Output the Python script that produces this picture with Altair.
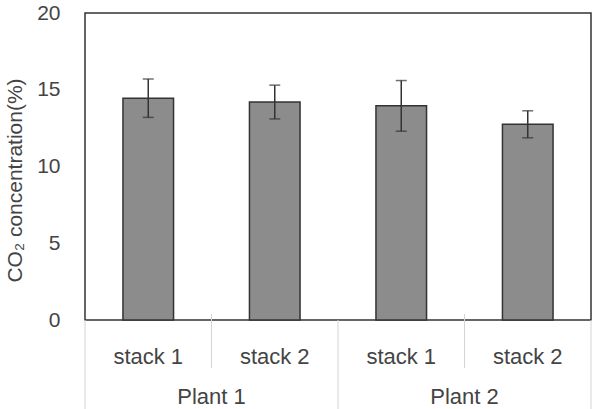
import altair as alt
import pandas as pd

plants = ["Plant 1", "Plant 1", "Plant 2", "Plant 2"]
stacks = ["stack 1", "stack 2", "stack 1", "stack 2"]
means = [14.45, 14.2, 13.95, 12.75]
errs = [1.25, 1.1, 1.65, 0.88]
plant_names = ["Plant 1", "Plant 2"]

keys = [p + " " + s for p, s in zip(plants, stacks)]
df = pd.DataFrame({"key": keys, "plant": plants, "stack": stacks, "mean": means, "err": errs})
pdf = pd.DataFrame({"plant": plant_names})

W, H = 506, 307
FONT = "Liberation Sans"
TXT = "#444"

bar_scale = alt.Scale(domain=keys, paddingInner=0.6, paddingOuter=0.3)
flat_scale = alt.Scale(domain=keys, paddingInner=0, paddingOuter=0)
plant_scale = alt.Scale(domain=plant_names, paddingInner=0, paddingOuter=0)
yscale = alt.Scale(domain=[0, 20], nice=False)
yaxis = alt.Axis(title="CO\u2082 concentration(%)", values=[0, 5, 10, 15, 20])

base = alt.Chart(df).transform_calculate(
    low="datum.mean - datum.err", high="datum.mean + datum.err"
)
xb = alt.X("key:N", scale=bar_scale, axis=None, sort=keys)

bars = base.mark_bar(fill="#8c8c8c", stroke="#333", strokeWidth=1.5).encode(
    x=xb,
    y=alt.Y("mean:Q", scale=yscale, axis=yaxis),
)

err_rule = base.mark_rule(color="#333", strokeWidth=1.5).encode(
    x=xb,
    y=alt.Y("low:Q", scale=yscale, axis=yaxis),
    y2="high:Q",
)
cap_hi = base.mark_tick(color="#333", size=11, thickness=1.5, orient="horizontal").encode(
    x=xb,
    y=alt.Y("high:Q", scale=yscale, axis=yaxis),
)
cap_lo = base.mark_tick(color="#333", size=11, thickness=1.5, orient="horizontal").encode(
    x=xb,
    y=alt.Y("low:Q", scale=yscale, axis=yaxis),
)

stack_labels = alt.Chart(df).mark_text(font=FONT, fontSize=22, color=TXT, baseline="middle").encode(
    x=xb,
    y=alt.value(H + 37),
    text="stack:N",
)

plant_labels = alt.Chart(pdf).mark_text(font=FONT, fontSize=22, color=TXT, baseline="middle").encode(
    x=alt.X("plant:N", scale=plant_scale, axis=None),
    y=alt.value(H + 77),
    text="plant:N",
)

sep_long = alt.Chart(pdf).mark_rule(color="#d4d4d4", strokeWidth=1).encode(
    x=alt.X("plant:N", scale=plant_scale, axis=None, bandPosition=0),
    y=alt.value(H),
    y2=alt.value(H + 89),
)
sep_end = alt.Chart(pdf).transform_filter("datum.plant == 'Plant 2'").mark_rule(
    color="#d4d4d4", strokeWidth=1).encode(
    x=alt.X("plant:N", scale=plant_scale, axis=None, bandPosition=1),
    y=alt.value(H),
    y2=alt.value(H + 89),
)
sep_short = alt.Chart(df).transform_filter("datum.stack == 'stack 2'").mark_rule(
    color="#d4d4d4", strokeWidth=1).encode(
    x=alt.X("key:N", scale=flat_scale, axis=None, bandPosition=0, sort=keys),
    y=alt.value(H - 6),
    y2=alt.value(H + 48),
)

chart = alt.layer(
    sep_long, sep_end, sep_short, bars, err_rule, cap_hi, cap_lo, stack_labels, plant_labels
).resolve_scale(x="independent").properties(
    width=W, height=H,
    autosize=alt.AutoSizeParams(type="none"),
    padding={"left": 85, "top": 13, "right": 8, "bottom": 89},
).configure_view(
    stroke="#333", strokeWidth=1.5
).configure_axisY(
    domain=False, ticks=False, grid=False,
    labelFont=FONT, labelFontSize=21, labelColor=TXT, labelPadding=25,
    titleFont=FONT, titleFontSize=21, titleColor=TXT, titleFontWeight="normal",
    titleAngle=270, titleX=-70, titleY=167, titleAlign="center", titleBaseline="middle",
)

chart.save("out.html", embed_options={"renderer": "svg", "actions": False})
